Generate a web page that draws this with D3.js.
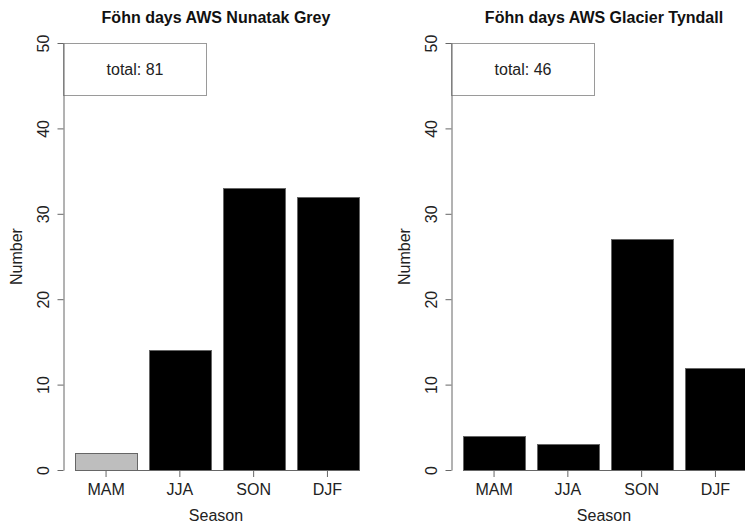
<!DOCTYPE html>
<html>
<head>
<meta charset="utf-8">
<script src="https://cdn.jsdelivr.net/npm/d3@7"></script>
<style>
  html, body { margin: 0; padding: 0; background: #fff; }
  svg { display: block; font-family: "Liberation Sans", Arial, Helvetica, sans-serif; }
</style>
</head>
<body>
<svg id="chart" width="745" height="527"></svg>
<script>
// Seasonal counts of foehn days at two weather stations
const seasons = ["MAM", "JJA", "SON", "DJF"];
const nunatakGrey = [2, 14, 33, 32];
const glacierTyndall = [4, 3, 27, 12];
const nunatakColors = ["#bebebe", "#000000", "#000000", "#000000"];
const tyndallColors = ["#000000", "#000000", "#000000", "#000000"];
const yTicks = [0, 10, 20, 30, 40, 50];
const titles = ["Föhn days AWS Nunatak Grey", "Föhn days AWS Glacier Tyndall"];

const svg = d3.select("#chart");

const y = d3.scaleLinear().domain([0, 50]).range([470, 43]);

function drawPanel(axisX, title, values, colors) {
  const u = 61.5;                      // bar width in px
  const x = d3.scaleBand()
    .domain(seasons)
    .range([axisX + 0.1 * u, axisX + 4.9 * u])
    .paddingInner(1 / 6)
    .paddingOuter(1 / 12);

  const g = svg.append("g");

  // title
  g.append("text")
    .attr("x", axisX + 153)
    .attr("y", 23)
    .attr("text-anchor", "middle")
    .attr("font-weight", "bold")
    .attr("font-size", 16)
    .attr("fill", "#111")
    .text(title);

  // total box
  const total = d3.sum(values);
  g.append("rect")
    .attr("x", axisX + 0.5)
    .attr("y", y(50) + 0.5)
    .attr("width", 143)
    .attr("height", 52)
    .attr("fill", "#fff")
    .attr("stroke", "#9a9a9a")
    .attr("stroke-width", 1);
  g.append("text")
    .attr("x", axisX + 72)
    .attr("y", y(50) + 32)
    .attr("text-anchor", "middle")
    .attr("font-size", 16)
    .attr("fill", "#222")
    .text("total: " + total);

  // baseline under the bars
  g.append("line")
    .attr("x1", x(seasons[0]))
    .attr("x2", x(seasons[seasons.length - 1]) + x.bandwidth())
    .attr("y1", Math.round(y(0)) + 0.5)
    .attr("y2", Math.round(y(0)) + 0.5)
    .attr("stroke", "#666")
    .attr("stroke-width", 1);

  // bars
  g.selectAll("rect.bar")
    .data(seasons.map((s, i) => ({ s, v: values[i], c: colors[i] })))
    .join("rect")
    .attr("class", "bar")
    .attr("x", d => Math.round(x(d.s)) + 0.5)
    .attr("y", d => Math.round(y(d.v)) + 0.5)
    .attr("width", Math.round(x.bandwidth()))
    .attr("height", d => Math.round(y(0)) - Math.round(y(d.v)))
    .attr("fill", d => d.c)
    .attr("stroke", "#666")
    .attr("stroke-width", 1);

  // y axis
  const ya = g.append("g")
    .attr("transform", `translate(${axisX + 0.5},0)`)
    .call(d3.axisLeft(y).tickValues(yTicks).tickSize(6).tickSizeOuter(0).tickFormat(d3.format("d")));
  ya.select(".domain").attr("stroke", "#666");
  ya.selectAll(".tick line").attr("stroke", "#666");
  ya.selectAll(".tick text")
    .attr("transform", "rotate(-90)")
    .attr("x", 0)
    .attr("y", -15)
    .attr("dy", 0)
    .attr("text-anchor", "middle")
    .attr("font-size", 16)
    .attr("font-family", null)
    .attr("fill", "#222");

  // x axis (ticks and labels only)
  const xa = g.append("g")
    .attr("transform", `translate(0,${Math.round(y(0))})`)
    .call(d3.axisBottom(x).tickSize(7).tickSizeOuter(0));
  xa.select(".domain").remove();
  xa.selectAll(".tick line").attr("stroke", "#666");
  xa.selectAll(".tick text")
    .attr("y", 25)
    .attr("dy", 0)
    .attr("font-size", 16)
    .attr("font-family", null)
    .attr("fill", "#222");

  // axis titles
  g.append("text")
    .attr("transform", `translate(${axisX - 41},${(y(0) + y(50)) / 2}) rotate(-90)`)
    .attr("text-anchor", "middle")
    .attr("font-size", 16)
    .attr("fill", "#222")
    .text("Number");
  g.append("text")
    .attr("x", axisX + 153)
    .attr("y", 521)
    .attr("text-anchor", "middle")
    .attr("font-size", 16)
    .attr("fill", "#222")
    .text("Season");
}

drawPanel(63, titles[0], nunatakGrey, nunatakColors);
drawPanel(451, titles[1], glacierTyndall, tyndallColors);
</script>
</body>
</html>
